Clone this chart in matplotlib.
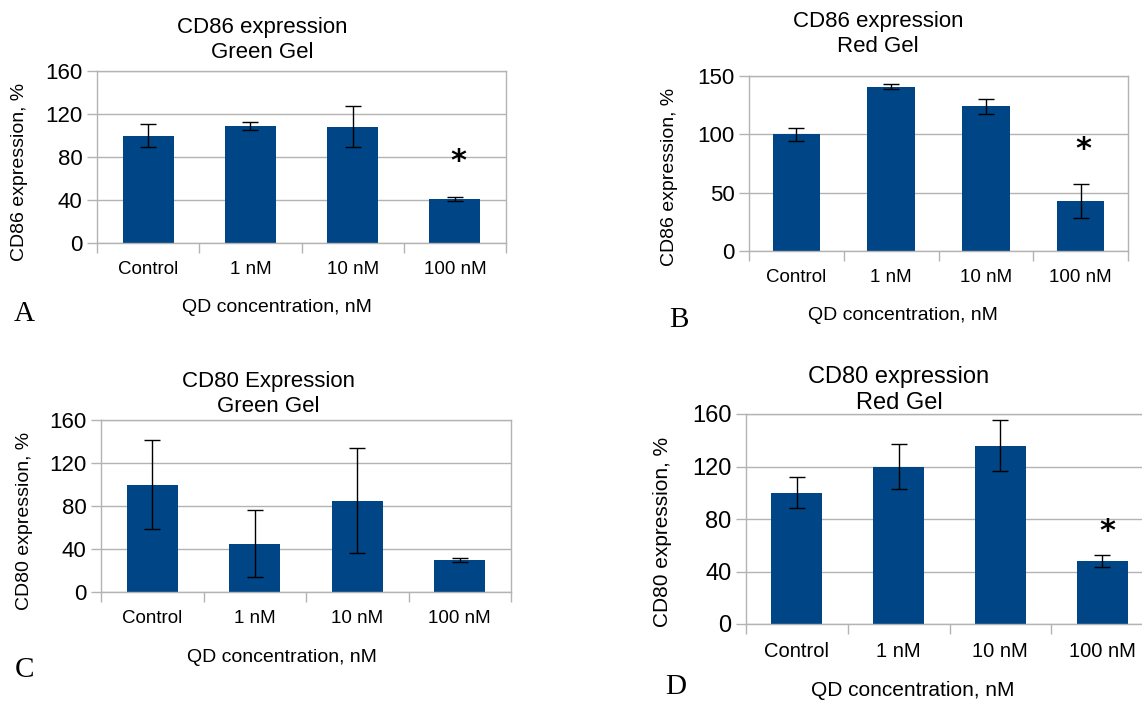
import numpy as np
import matplotlib
matplotlib.use("Agg")
import matplotlib.pyplot as plt

plt.rcParams['font.family'] = ['Liberation Sans', 'DejaVu Sans']

categories = ["Control", "1 nM", "10 nM", "100 nM"]

# panel A: CD86, green gel
cd86_green = [100, 109, 108, 41]
cd86_green_err = [11, 3.5, 19, 2.2]
# panel B: CD86, red gel
cd86_red = [100, 141, 124, 43]
cd86_red_err = [5.6, 2, 6.3, 14.4]
# panel C: CD80, green gel
cd80_green = [100, 45, 85, 30]
cd80_green_err = [41, 31, 49, 2]
# panel D: CD80, red gel
cd80_red = [100, 120, 136, 48]
cd80_red_err = [11.7, 17, 19.7, 4.8]

BAR = "#004586"
GRID = "#b3b3b3"
W, H = 1142, 701

fig = plt.figure(figsize=(W / 100, H / 100), dpi=100)


def px(x, y):
    return x / W, 1 - y / H


def panel(box, vals, errs, ymax, ystep, ylabel, title, title_xy, xlabel_xy,
          ylabel_xy, letter, letter_xy, star=None, fs=13.5):
    l, t, r, b = box
    ax = fig.add_axes([l / W, 1 - b / H, (r - l) / W, (b - t) / H])
    x = np.arange(len(vals)) + 0.5
    ax.bar(x, vals, width=0.5, color=BAR, zorder=2)
    ax.errorbar(x, vals, yerr=errs, fmt="none", ecolor="black",
                elinewidth=1, capsize=5.5, capthick=1, zorder=3)
    ax.set_xlim(0, 4)
    ax.set_ylim(0, ymax)
    ax.set_yticks(np.arange(0, ymax + 1, ystep))
    ax.set_xticks(np.arange(0, 5))
    ax.set_xticklabels([])
    ax.set_xticks(x, minor=True)
    ax.set_xticklabels(categories, minor=True, fontsize=fs)
    ax.tick_params(axis="x", which="major", length=7.5, color=GRID, width=1)
    ax.tick_params(axis="x", which="minor", length=0, pad=13)
    ax.tick_params(axis="y", length=7.5, color=GRID, width=1,
                   labelsize=fs + 2.5, pad=3)
    ax.yaxis.grid(True, color=GRID, linewidth=1, zorder=0)
    ax.set_axisbelow(True)
    for s in ax.spines.values():
        s.set_color(GRID)
        s.set_linewidth(1)
    if star is not None:
        ax.text(star[0], star[1], "*", ha="center", va="center",
                fontsize=22, fontweight="bold", fontfamily="DejaVu Sans",
                zorder=4)
    fig.text(*px(*title_xy), title, ha="center", va="center",
             fontsize=fs + 2.5, linespacing=1.2)
    fig.text(*px(*xlabel_xy), "QD concentration, nM", ha="center",
             va="center", fontsize=fs + 0.5)
    fig.text(*px(*ylabel_xy), ylabel, ha="center", va="center",
             rotation=90, fontsize=fs + 0.5)
    fig.text(*px(*letter_xy), letter, ha="center", va="center",
             fontsize=21, fontfamily="Liberation Serif")
    return ax


panel((97, 71, 506, 243), cd86_green, cd86_green_err, 160, 40,
      "CD86 expression, %", "CD86 expression\nGreen Gel", (262, 40),
      (277, 308), (20, 172), "A", (24, 314), star=(3.53, 76))
panel((749, 76, 1128, 251), cd86_red, cd86_red_err, 150, 50,
      "CD86 expression, %", "CD86 expression\nRed Gel", (878, 34),
      (903, 315), (670, 177), "B", (679, 320), star=(3.53, 87.3))
panel((101, 420, 511, 592), cd80_green, cd80_green_err, 160, 40,
      "CD80 expression, %", "CD80 Expression\nGreen Gel", (268, 394),
      (282, 657), (25, 521), "C", (25, 670))
panel((746, 414, 1153, 624), cd80_red, cd80_red_err, 160, 40,
      "CD80 expression, %", "CD80 expression\nRed Gel", (899, 390),
      (913, 690), (663, 532), "D", (676, 687), star=(3.55, 70.7), fs=14.5)

fig.savefig("out.png", dpi=100)
